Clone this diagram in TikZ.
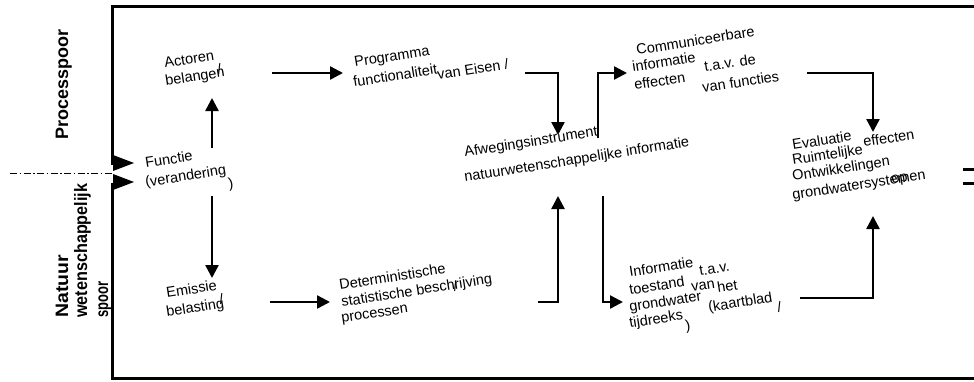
\documentclass[tikz,border=0pt]{standalone}
\usepackage{fontspec}
\setmainfont{Liberation Sans}
\usetikzlibrary{arrows.meta}
\begin{document}
\begin{tikzpicture}[x=1pt,y=-1pt,
  lbl/.style={anchor=base west, rotate=9, inner sep=0pt, font=\fontsize{14.5}{16}\selectfont},
  side/.style={anchor=base west, rotate=90, inner sep=0pt, font=\bfseries\fontsize{18}{20}\selectfont},
  frameline/.style={line width=3pt},
  conn/.style={line width=2.4pt, -{Triangle[length=13pt,width=13pt]}},
  ddline/.style={line width=0.9pt, dash pattern=on 7pt off 2.5pt on 1.5pt off 2.5pt}]
\useasboundingbox (0,0) rectangle (974,381);

% frame
\coordinate (ftl) at (112,6);
\coordinate (ftr) at (976,6);
\coordinate (fgu) at (112,165);
\coordinate (fgl) at (112,183);
\coordinate (fbl) at (112,378);
\coordinate (fbr) at (976,378);
\draw[frameline] (fgu) -- (ftl) -- (ftr);
\draw[frameline] (fgl) -- (fbl) -- (fbr);

% dash-dot input line and entry arrowheads
\coordinate (ddstart) at (10,173);
\coordinate (ddend) at (112,173);
\draw[ddline] (ddstart) -- (ddend);
\fill (113,155) -- (134,163) -- (113,171) -- cycle;
\fill (113,174) -- (134,182) -- (113,190) -- cycle;

% right cut-off marks
\draw[frameline] (963,169) -- (976,169);
\draw[frameline] (963,183) -- (976,183);

% side labels
\node[side] (proc) at (68,140) {Processpoor};
\node[side] (nat1) at (68,318) {\scalebox{1.08}[1]{Natuur}};
\node[side] (nat2) at (87,318) {\scalebox{0.9}[1]{wetenschappelijk}};
\node[side] (nat3) at (108,318) {\scalebox{0.72}[1]{spoor}};

% texts
\node[lbl] (act1) at (165,68) {Actoren};
\node[lbl] (act2) at (166,86) {belangen};
\node[lbl] (act3) at (218,75) {/};

\node[lbl] (fun1) at (146,168) {Functie};
\node[lbl] (fun2) at (146,187) {(verandering};
\node[lbl] (fun3) at (229,189) {)};

\node[lbl] (emi1) at (167,298) {Emissie};
\node[lbl] (emi2) at (167,317) {belasting};
\node[lbl] (emi3) at (220,305) {/};

\node[lbl] (pve1) at (355,67) {Programma};
\node[lbl] (pve2) at (354,87) {functionaliteit};
\node[lbl] (pve3) at (438,80) {van Eisen};
\node[lbl] (pve4) at (505,70) {/};

\node[lbl] (afw1) at (465,157) {Afwegingsinstrument};
\node[lbl] (afw2) at (465,182) {natuurwetenschappelijke informatie};

\node[lbl] (com1) at (637,55) {Communiceerbare};
\node[lbl] (com2) at (633,72) {informatie};
\node[lbl] (com3) at (635,90) {effecten};
\node[lbl] (com4) at (705,72) {t.a.v. de};
\node[lbl] (com5) at (703,93) {van functies};

\node[lbl] (eva1) at (793,150) {Evaluatie};
\node[lbl] (eva2) at (864,147) {effecten};
\node[lbl] (eva3) at (793,165) {Ruimtelijke};
\node[lbl] (eva4) at (793,181) {Ontwikkelingen};
\node[lbl] (eva5) at (793,200) {grondwatersystemen};
\node[lbl] (eva6) at (892,184) {op};

\node[lbl] (det1) at (340,290) {Deterministische};
\node[lbl] (det2) at (342,307) {statistische beschrijving};
\node[lbl] (det3) at (454,292) {/};
\node[lbl] (det4) at (342,323) {processen};

\node[lbl] (inf1) at (630,277) {Informatie};
\node[lbl] (inf2) at (630,295) {toestand};
\node[lbl] (inf3) at (630,312) {grondwater};
\node[lbl] (inf4) at (630,328) {tijdreeks};
\node[lbl] (inf5) at (700,276) {t.a.v.};
\node[lbl] (inf6) at (692,292) {van};
\node[lbl] (inf7) at (718,293) {het};
\node[lbl] (inf8) at (709,312) {(kaartblad};
\node[lbl] (inf9) at (778,313) {/};
\node[lbl] (inf10) at (686,331) {)};

% connector end points
\coordinate (a1s) at (212,148); \coordinate (a1e) at (212,98);
\coordinate (a2s) at (212,196); \coordinate (a2e) at (212,278);
\coordinate (a3s) at (272,73);  \coordinate (a3e) at (343,73);
\coordinate (a4s) at (270,302); \coordinate (a4e) at (330,302);
\coordinate (e1s) at (525,73);  \coordinate (e1e) at (558,135);
\coordinate (e2s) at (598,138); \coordinate (e2e) at (627,73);
\coordinate (e3s) at (807,73);  \coordinate (e3e) at (873,132);
\coordinate (e4s) at (538,302); \coordinate (e4e) at (558,196);
\coordinate (e5s) at (603,196); \coordinate (e5e) at (623,302);
\coordinate (e6s) at (800,298); \coordinate (e6e) at (873,216);

\draw[conn] (a1s) -- (a1e);
\draw[conn] (a2s) -- (a2e);
\draw[conn] (a3s) -- (a3e);
\draw[conn] (a4s) -- (a4e);
\draw[conn] (e1s) -| (e1e);
\draw[conn] (e2s) |- (e2e);
\draw[conn] (e3s) -| (e3e);
\draw[conn] (e4s) -| (e4e);
\draw[conn] (e5s) |- (e5e);
\draw[conn] (e6s) -| (e6e);
\end{tikzpicture}
\end{document}
